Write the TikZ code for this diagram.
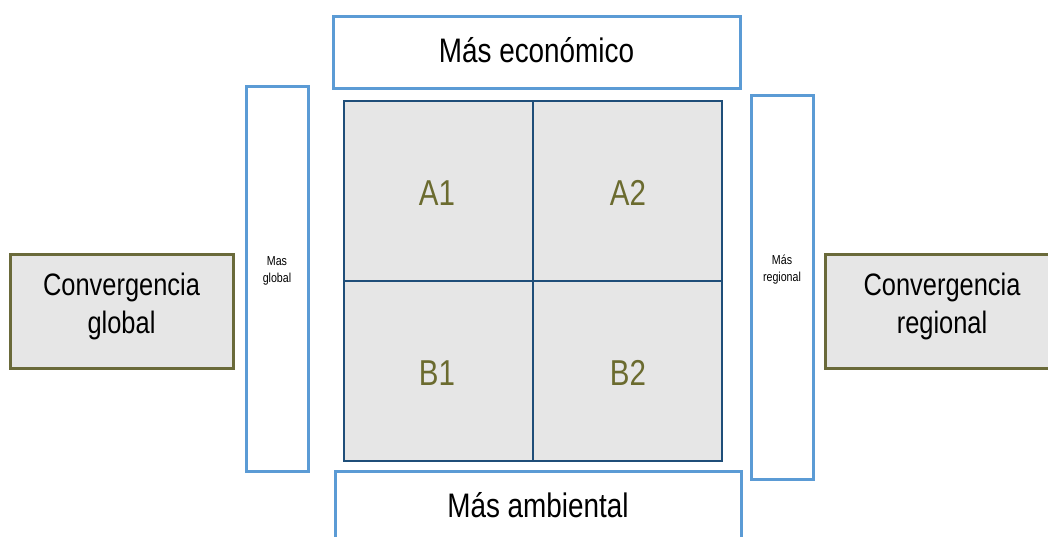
\documentclass[tikz,border=0pt]{standalone}
\usepackage{fontspec}
\setmainfont{Liberation Sans}[FakeStretch=0.82]
\definecolor{lblue}{HTML}{5B9BD5}
\definecolor{dblue}{HTML}{1F4E79}
\definecolor{cellgray}{HTML}{E6E6E6}
\definecolor{olive}{HTML}{6A6A3A}
\definecolor{oltext}{HTML}{6B6B2F}
\begin{document}
\begin{tikzpicture}[x=1pt,y=-1pt,
  bluebox/.style={draw=lblue,line width=3pt,fill=white},
  cell/.style={draw=dblue,line width=2.6pt,fill=cellgray},
  convbox/.style={draw=olive,line width=3pt,fill=cellgray},
  celltxt/.style={text=oltext,font=\fontsize{36}{40}\selectfont},
  toptxt/.style={font=\fontsize{34}{38}\selectfont,align=center},
  bigtxt/.style={font=\fontsize{31}{38}\selectfont,align=center},
  smalltxt/.style={font=\fontsize{13}{17}\selectfont,align=center}]
\useasboundingbox (0,0) rectangle (1048,536);
\begin{scope}
\clip (0,0) rectangle (1048,536);
% top and bottom boxes
\draw[bluebox] (333,16) rectangle (740,88);
\node[toptxt] (top) at (536.5,50) {Más económico};
\draw[bluebox] (335,471) rectangle (741,560);
\node[toptxt] (bot) at (538,505) {Más ambiental};
% side tall boxes
\draw[bluebox] (246,86) rectangle (308,471);
\node[smalltxt] (lg) at (277,271) {Mas\\global};
\draw[bluebox] (751,95) rectangle (813,479);
\node[smalltxt] (rg) at (782,270) {Más\\regional};
% convergence boxes
\draw[convbox] (10,254) rectangle (233,368);
\node[bigtxt] (cg) at (121.5,306) {Convergencia\\global};
\draw[convbox] (825,254) rectangle (1070,368);
\node[bigtxt] (cr) at (942,306) {Convergencia\\regional};
% grid
\draw[cell] (344,101) rectangle (533,281);
\draw[cell] (533,101) rectangle (722,281);
\draw[cell] (344,281) rectangle (533,461);
\draw[cell] (533,281) rectangle (722,461);
\node[celltxt] (a1) at (437,193) {A1};
\node[celltxt] (a2) at (628,193) {A2};
\node[celltxt] (b1) at (437,373) {B1};
\node[celltxt] (b2) at (628,373) {B2};
\end{scope}
\end{tikzpicture}
\end{document}
